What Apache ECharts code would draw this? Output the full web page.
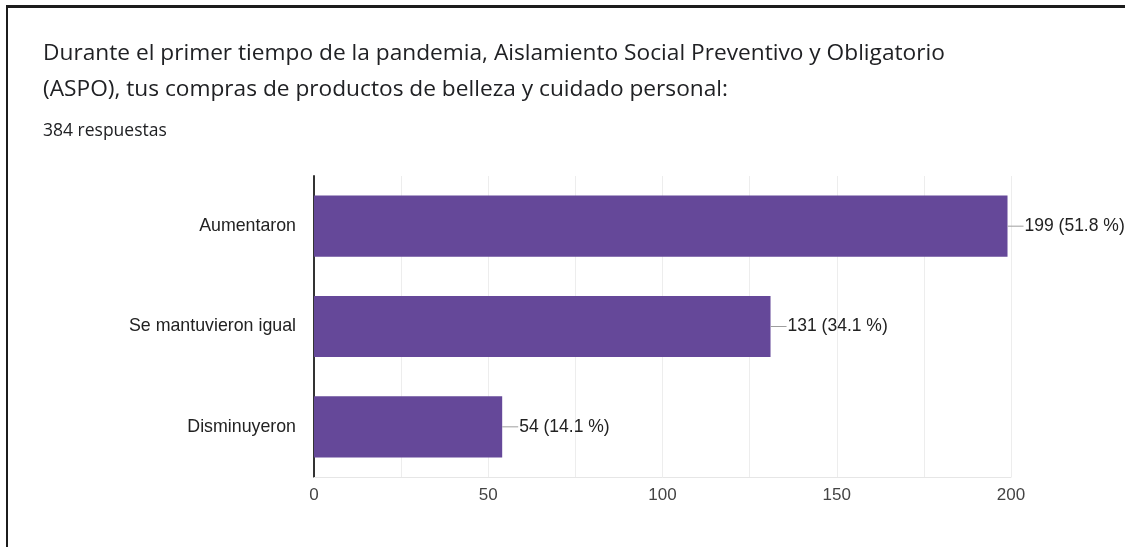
<!DOCTYPE html>
<html>
<head>
<meta charset="utf-8">
<script src="https://cdn.jsdelivr.net/npm/echarts@6/dist/echarts.min.js"></script>
<style>
  html, body { margin: 0; padding: 0; background: #fff; }
  #chart { width: 1125px; height: 547px; position: relative; }
  #frame { position: absolute; left: 6px; top: 5px; right: 0; bottom: 0;
           border-top: 3px solid #1c1c1c; border-left: 2px solid #1c1c1c; pointer-events: none; }
</style>
</head>
<body>
<div id="chart"></div>
<div id="frame"></div>
<script>
// Survey answers: purchases of beauty / personal care products during ASPO
const categories = ['Aumentaron', 'Se mantuvieron igual', 'Disminuyeron'];
const counts = [199, 131, 54];
const percents = ['51.8', '34.1', '14.1'];
const totalAnswers = 384;
const xTicks = [0, 50, 100, 150, 200];

const titleLines = [
  'Durante el primer tiempo de la pandemia, Aislamiento Social Preventivo y Obligatorio',
  '(ASPO), tus compras de productos de belleza y cuidado personal:'
];

const chart = echarts.init(document.getElementById('chart'), null, { renderer: 'canvas' });

chart.setOption({
  animation: false,
  backgroundColor: 'transparent',
  title: [
    {
      text: titleLines.join('\n'),
      left: 38, top: 31,
      textStyle: { fontFamily: 'Open Sans', fontSize: 22.7, fontWeight: 'normal', color: '#202124', lineHeight: 36 }
    },
    {
      text: totalAnswers + ' respuestas',
      left: 38, top: 117,
      textStyle: { fontFamily: 'Open Sans', fontSize: 17.5, fontWeight: 'normal', color: '#202124' }
    }
  ],
  grid: { left: 314, right: 114, top: 176, bottom: 70, containLabel: false },
  xAxis: {
    type: 'value',
    min: 0, max: 200, interval: 25,
    axisLine: { show: true, lineStyle: { color: '#e6e6e6', width: 1 } },
    axisTick: { show: false },
    splitLine: { show: true, lineStyle: { color: '#ededed', width: 1 } },
    axisLabel: {
      margin: 10,
      fontFamily: 'Arial, Liberation Sans', fontSize: 17, color: '#444',
      formatter: v => (xTicks.indexOf(v) >= 0 ? String(v) : '')
    }
  },
  yAxis: {
    type: 'category',
    data: categories,
    inverse: true,
    axisLine: { show: true, lineStyle: { color: '#333', width: 2 } },
    axisTick: { show: false },
    axisLabel: { margin: 18, fontFamily: 'Arial, Liberation Sans', fontSize: 17.8, color: '#222' }
  },
  series: [{
    type: 'bar',
    data: counts,
    barWidth: '61%',
    itemStyle: { color: '#654899' },
    label: {
      show: true,
      position: 'right',
      distance: 0,
      formatter: p => '{l|}{v|' + p.value + ' (' + percents[p.dataIndex] + ' %)}',
      rich: {
        l: { width: 16, height: 1, backgroundColor: '#9e9e9e' },
        v: { fontFamily: 'Arial, Liberation Sans', fontSize: 17.5, color: '#222', padding: [0, 0, 0, 1] }
      }
    }
  }]
});
</script>
</body>
</html>
